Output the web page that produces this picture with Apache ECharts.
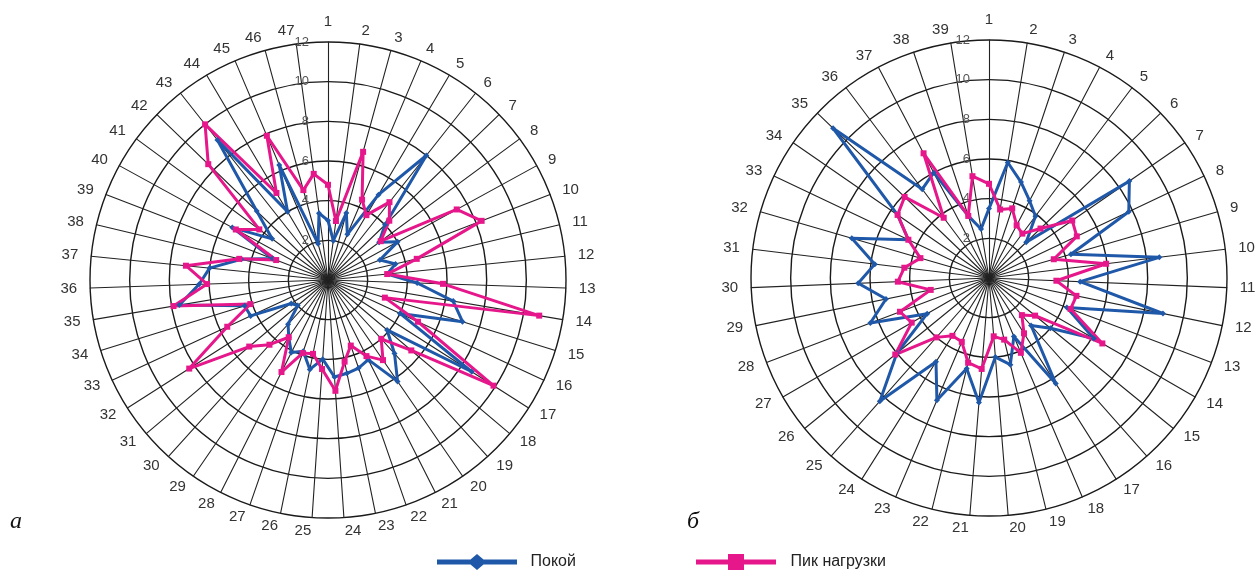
<!DOCTYPE html>
<html>
<head>
<meta charset="utf-8">
<script src="https://cdn.jsdelivr.net/npm/echarts@6/dist/echarts.min.js"></script>
<style>
html, body { margin: 0; padding: 0; background: #fff; }
#chart { width: 1260px; height: 574px; }
</style>
</head>
<body>
<div id="chart"></div>
<script>
// значения по осям, по порядку 1..N (по часовой стрелке)
// рисунок а — 47 осей
const restA = [3.0, 2.0, 3.5, 2.5, 5.0, 8.0, 4.0, 3.2, 4.0, 2.8, 3.5, 3.0, 4.5, 6.4, 7.1, 4.0, 8.6, 3.9, 5.0, 6.2,
  4.5, 4.7, 4.8, 4.9, 4.0, 4.6, 3.8, 4.1, 3.5, 3.0, 2.0, 2.2, 4.3, 4.4, 7.6, 6.5, 6.0, 4.5, 3.0, 5.5,
  3.5, 5.0, 9.0, 4.0, 6.3, 1.9, 3.4];
const peakA = [4.8, 3.0, 6.7, 4.4, 3.8, 5.0, 4.3, 3.3, 7.4, 8.3, 4.6, 3.0, 5.8, 10.8, 3.0, 5.0, 9.9, 5.5, 4.0, 4.9,
  4.3, 3.5, 4.2, 5.6, 4.5, 3.8, 3.9, 5.2, 3.5, 4.4, 5.2, 8.3, 5.6, 4.1, 7.9, 6.1, 7.2, 4.6, 2.8, 5.3,
  4.3, 8.4, 10.0, 5.1, 7.9, 4.7, 5.4];
// рисунок б — 39 осей
const restB = [3.5, 5.9, 5.1, 4.4, 3.9, 2.6, 8.6, 7.8, 4.3, 8.65, 4.6, 8.95, 4.2, 6.1, 4.0, 3.2, 6.3, 3.2, 4.5, 4.0,
  6.3, 4.7, 6.7, 5.0, 8.3, 6.0, 3.6, 6.4, 5.3, 6.6, 5.8, 7.2, 4.5, 5.6, 10.9, 5.6, 6.0, 3.3, 2.5];
const peakB = [4.75, 3.5, 3.7, 3.0, 2.8, 3.6, 5.1, 4.9, 3.4, 5.95, 3.4, 4.5, 4.4, 6.6, 3.0, 2.5, 3.3, 4.1, 3.2, 2.95,
  4.6, 4.4, 3.5, 3.45, 4.0, 6.1, 4.5, 4.8, 3.0, 4.6, 4.3, 3.6, 4.5, 5.6, 5.9, 3.8, 7.1, 3.3, 5.2];
const scaleMax = 12;
const seriesNames = ['Покой', 'Пик нагрузки'];
const colors = ['#1f58a8', '#e5178b'];

const chart = echarts.init(document.getElementById('chart'));

// радар в echarts идёт против часовой — переставляем оси
function clockwise(arr) {
  return [arr[0]].concat(arr.slice(1).reverse());
}
function indicators(n) {
  const list = [];
  for (let i = 1; i <= n; i++) list.push({ name: String(i), min: 0, max: scaleMax });
  const res = clockwise(list);
  // подписи шкалы только на первой оси
  res[0].axisLabel = {
    show: true,
    color: '#555',
    fontSize: 13,
    fontFamily: 'Liberation Sans',
    showMinLabel: false,
    margin: 19
  };
  return res;
}

const radarBase = {
  radius: 238,
  startAngle: 90,
  shape: 'circle',
  splitNumber: 6,
  splitArea: { show: false },
  splitLine: { lineStyle: { color: '#1a1a1a', width: 1.4 } },
  axisLine: { lineStyle: { color: '#222', width: 1.1 } },
  axisName: { color: '#333', fontSize: 15, fontFamily: 'Liberation Sans' },
  nameGap: 13
};

// значки легенды: линия с ромбом и линия с квадратом
const iconDiamond = 'path://M0,5.5H33.5L40,0L46.5,5.5H80V10.5H46.5L40,16L33.5,10.5H0Z';
const iconSquare = 'path://M0,5.5H32V0H48V5.5H80V10.5H48V16H32V10.5H0Z';

function radarSeries(radarIndex, rest, peak) {
  return {
    type: 'radar',
    radarIndex: radarIndex,
    data: [
      {
        name: seriesNames[0],
        value: clockwise(rest),
        symbol: 'diamond',
        symbolSize: 6,
        lineStyle: { color: colors[0], width: 3 },
        itemStyle: { color: colors[0] }
      },
      {
        name: seriesNames[1],
        value: clockwise(peak),
        symbol: 'rect',
        symbolSize: 6,
        lineStyle: { color: colors[1], width: 3 },
        itemStyle: { color: colors[1] }
      }
    ]
  };
}

const option = {
  animation: false,
  backgroundColor: '#fff',
  radar: [
    Object.assign({ center: [328, 280], indicator: indicators(restA.length) }, radarBase),
    Object.assign({ center: [989, 278], indicator: indicators(restB.length) }, radarBase)
  ],
  legend: [
    {
      data: [{ name: seriesNames[0], icon: iconDiamond, itemStyle: { color: colors[0] } }],
      left: 432, top: 549,
      itemWidth: 83, itemHeight: 16,
      textStyle: { color: '#222', fontSize: 16, fontFamily: 'Liberation Sans', padding: [0, 0, 0, 7] }
    },
    {
      data: [{ name: seriesNames[1], icon: iconSquare, itemStyle: { color: colors[1] } }],
      left: 691, top: 549,
      itemWidth: 83, itemHeight: 16,
      textStyle: { color: '#222', fontSize: 16, fontFamily: 'Liberation Sans', padding: [0, 0, 0, 8] }
    }
  ],
  graphic: [
    { type: 'text', left: 10, top: 510, style: { text: 'а', font: 'italic 24px "Liberation Serif"', fill: '#111' } },
    { type: 'text', left: 687, top: 510, style: { text: 'б', font: 'italic 24px "Liberation Serif"', fill: '#111' } }
  ],
  series: [
    radarSeries(0, restA, peakA),
    radarSeries(1, restB, peakB)
  ]
};

chart.setOption(option);
</script>
</body>
</html>
